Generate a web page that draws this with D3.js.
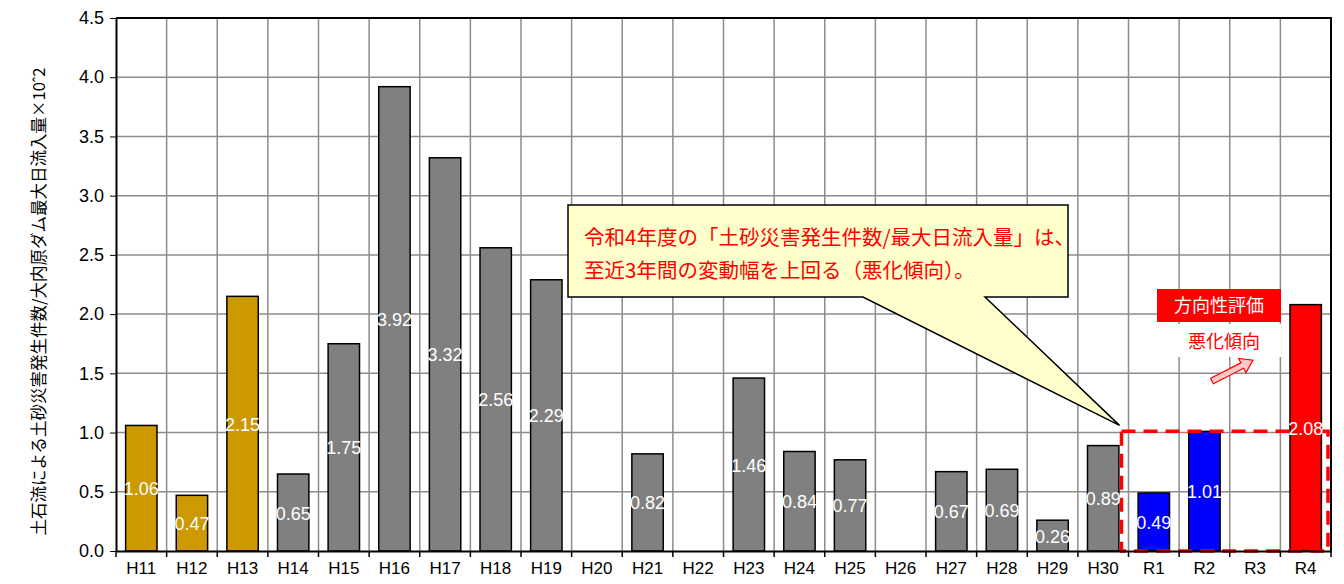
<!DOCTYPE html>
<html>
<head>
<meta charset="utf-8">
<script src="https://d3js.org/d3.v7.min.js"></script>
<style>
  body { margin: 0; background: #fff; }
  text { font-family: "Liberation Sans", Arial, sans-serif; }
  .jp { font-family: "Noto Sans CJK JP", sans-serif; }
</style>
</head>
<body>
<svg width="1344" height="584"></svg>
<script>
// data
var years = ["H11","H12","H13","H14","H15","H16","H17","H18","H19","H20","H21","H22","H23","H24","H25","H26","H27","H28","H29","H30","R1","R2","R3","R4"];
var values = [1.06,0.47,2.15,0.65,1.75,3.92,3.32,2.56,2.29,null,0.82,null,1.46,0.84,0.77,null,0.67,0.69,0.26,0.89,0.49,1.01,null,2.08];
var groups = ["old","old","old","g","g","g","g","g","g","g","g","g","g","g","g","g","g","g","g","g","recent","recent","recent","now"];
var yTicks = [0,0.5,1,1.5,2,2.5,3,3.5,4,4.5];
var yLabel = "土石流による土砂災害発生件数/大内原ダム最大日流入量×10ˆ2";
var noteLines = ["令和4年度の「土砂災害発生件数/最大日流入量」は、", "至近3年間の変動幅を上回る（悪化傾向）。"];

var colors = {old: "#CC9900", g: "#808080", recent: "#0000FF", now: "#FF0000"};

var svg = d3.select("svg");
var pL = 116, pR = 1331, pT = 18, pB = 551;

var x = d3.scaleBand().domain(years).range([pL, pR]).paddingInner(0.38).paddingOuter(0.19);
var y = d3.scaleLinear().domain([0, 4.5]).range([pB, pT]);
var step = x.step();

// grid
var grid = svg.append("g");
grid.selectAll("line.h").data(yTicks.slice(1)).enter().append("line")
  .attr("x1", pL).attr("x2", pR)
  .attr("y1", d => y(d)).attr("y2", d => y(d))
  .attr("stroke", "#8c8c8c").attr("stroke-width", 1.5);
grid.selectAll("line.v").data(d3.range(1, years.length + 1)).enter().append("line")
  .attr("x1", i => pL + i * step).attr("x2", i => pL + i * step)
  .attr("y1", pT).attr("y2", pB)
  .attr("stroke", "#8c8c8c").attr("stroke-width", 1.5);

// frame (top, right)
svg.append("path")
  .attr("d", "M" + pL + "," + pT + "H" + pR + "V" + pB)
  .attr("fill", "none").attr("stroke", "#000").attr("stroke-width", 2);

// bars
var data = years.map((d, i) => ({year: d, v: values[i], g: groups[i]}));
svg.append("g").selectAll("rect").data(data.filter(d => d.v != null)).enter().append("rect")
  .attr("x", d => x(d.year)).attr("width", x.bandwidth())
  .attr("y", d => y(d.v)).attr("height", d => pB - y(d.v))
  .attr("fill", d => colors[d.g]).attr("stroke", "#000").attr("stroke-width", 1.5);

// dashed range box (R1..R3)
var boxL = pL + 20 * step - 7, boxR = pR - 3;
svg.append("rect")
  .attr("x", boxL).attr("y", y(values[21]))
  .attr("width", boxR - boxL).attr("height", pB - y(values[21]))
  .attr("fill", "none").attr("stroke", "#FF0000").attr("stroke-width", 3.5)
  .attr("stroke-dasharray", "14,8");

// value labels
svg.append("g").selectAll("text").data(data.filter(d => d.v != null)).enter().append("text")
  .attr("x", d => x(d.year) + x.bandwidth() / 2)
  .attr("y", d => (y(d.v) + pB) / 2 + 7)
  .attr("text-anchor", "middle").attr("fill", "#fff").attr("font-size", 18)
  .text(d => d.v.toFixed(2));

// axes
var yAxis = svg.append("g").attr("transform", "translate(" + pL + ",0)")
  .call(d3.axisLeft(y).tickValues(yTicks).tickFormat(d3.format(".1f")).tickSize(6).tickSizeOuter(0));
yAxis.select(".domain").attr("stroke-width", 2);
yAxis.selectAll("text").attr("font-size", 18).attr("fill", "#000").attr("dx", "-3");

var xAxis = svg.append("g").attr("transform", "translate(0," + pB + ")")
  .call(d3.axisBottom(x).tickSize(0).tickSizeOuter(0));
xAxis.select(".domain").attr("stroke-width", 2);
xAxis.selectAll("text").attr("font-size", 17).attr("fill", "#000").attr("dy", "1.2em");
svg.append("g").selectAll("line").data(d3.range(0, years.length + 1)).enter().append("line")
  .attr("x1", i => pL + i * step).attr("x2", i => pL + i * step)
  .attr("y1", pB).attr("y2", pB + 6)
  .attr("stroke", "#000").attr("stroke-width", 1.5);

// y label
svg.append("text").attr("class", "jp")
  .attr("transform", "translate(45," + ((pT + pB) / 2 + 17) + ") rotate(-90)")
  .attr("text-anchor", "middle").attr("font-size", 16.5).attr("fill", "#000")
  .text(yLabel);

// callout
var bx0 = 568, bx1 = 1068, by0 = 205, by1 = 297;
var tipX = boxL - 2, tipY = y(values[21]) - 6;
svg.append("path")
  .attr("d", "M" + bx0 + "," + by0 + "H" + bx1 + "V" + by1 + "H985L" + tipX + "," + tipY + "L863," + by1 + "H" + bx0 + "Z")
  .attr("fill", "#FFFFCC").attr("stroke", "#000").attr("stroke-width", 1.5);
svg.append("g").selectAll("text").data(noteLines).enter().append("text").attr("class", "jp")
  .attr("x", 584).attr("y", (d, i) => 245 + i * 33)
  .attr("fill", "#FF0000").attr("font-size", 20.5)
  .text(d => d);

// direction legend
svg.append("rect").attr("x", 1157).attr("y", 289).attr("width", 124).attr("height", 33).attr("fill", "#FF0000");
svg.append("text").attr("class", "jp").attr("x", 1219).attr("y", 312)
  .attr("text-anchor", "middle").attr("fill", "#fff").attr("font-size", 18).text("方向性評価");
svg.append("rect").attr("x", 1178).attr("y", 324).attr("width", 103).attr("height", 33).attr("fill", "#fff");
svg.append("text").attr("class", "jp").attr("x", 1224).attr("y", 348)
  .attr("text-anchor", "middle").attr("fill", "#FF0000").attr("font-size", 18).text("悪化傾向");
svg.append("path")
  .attr("d", "M0,-3H34V-8L46,0L34,8V3H0Z")
  .attr("transform", "translate(1212,381) rotate(-27)")
  .attr("fill", "#FFC8C8").attr("stroke", "#FF0000").attr("stroke-width", 1.2);
</script>
</body>
</html>
